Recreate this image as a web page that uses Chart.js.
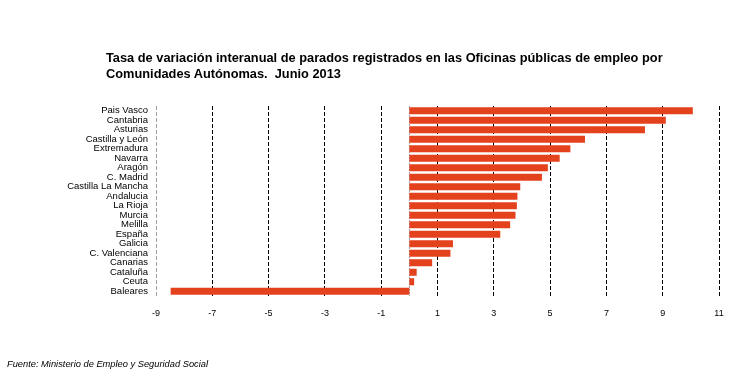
<!DOCTYPE html>
<html>
<head>
<meta charset="utf-8">
<script src="https://cdn.jsdelivr.net/npm/chart.js@4"></script>
<style>
  body { margin: 0; background: #fff; }
  #wrap { position: relative; width: 733px; height: 377px; }
  #title {
    position: absolute; left: 106px; top: 50px;
    font: bold 12.8px "Liberation Sans", Arial, sans-serif;
    line-height: 16px; color: #000;
  }
  #source {
    position: absolute; left: 7px; top: 359px;
    font: italic 9.3px "Liberation Sans", Arial, sans-serif;
    color: #000;
  }
  canvas { position: absolute; left: 0; top: 0; }
</style>
</head>
<body>
<div id="wrap">
  <canvas id="chart" width="733" height="377"></canvas>
  <div id="title">Tasa de variación interanual de parados registrados en las Oficinas públicas de empleo por<br>Comunidades Autónomas.&nbsp; Junio 2013</div>
  <div id="source">Fuente: Ministerio de Empleo y Seguridad Social</div>
</div>
<script>
// Data
const regions = ['Pais Vasco', 'Cantabria', 'Asturias', 'Castilla y León', 'Extremadura', 'Navarra',
  'Aragón', 'C. Madrid', 'Castilla La Mancha', 'Andalucia', 'La Rioja', 'Murcia', 'Melilla',
  'España', 'Galicia', 'C. Valenciana', 'Canarias', 'Cataluña', 'Ceuta', 'Baleares'];
const rates = [10.07, 9.11, 8.37, 6.24, 5.72, 5.34, 4.92, 4.71, 3.94, 3.84, 3.82, 3.77, 3.58,
  3.23, 1.55, 1.46, 0.81, 0.26, 0.17, -8.48];
const axisMin = -9;
const axisMax = 11;
const axisStep = 2;

// grey dotted line at zero
const zeroLine = {
  id: 'zeroLine',
  beforeDatasetsDraw(chart) {
    const { ctx, chartArea, scales } = chart;
    const x = Math.round(scales.x.getPixelForValue(0)) + 0.5;
    ctx.save();
    ctx.strokeStyle = '#a0a0a0';
    ctx.lineWidth = 1;
    ctx.setLineDash([2, 1]);
    ctx.beginPath();
    ctx.moveTo(x, chartArea.top);
    ctx.lineTo(x, chartArea.bottom);
    ctx.stroke();
    ctx.restore();
  }
};

const ctx = document.getElementById('chart').getContext('2d');
new Chart(ctx, {
  type: 'bar',
  data: {
    labels: regions,
    datasets: [{
      data: rates,
      backgroundColor: '#e4411d',
      borderWidth: 0,
      barPercentage: 0.74,
      categoryPercentage: 1.0
    }]
  },
  options: {
    indexAxis: 'y',
    responsive: false,
    animation: false,
    layout: { padding: { left: 0, right: 14, top: 106, bottom: 51 } },
    plugins: {
      legend: { display: false },
      tooltip: { enabled: false }
    },
    scales: {
      x: {
        min: axisMin,
        max: axisMax,
        afterFit: (s) => { s.height = 30; s.paddingRight = 0; s.paddingLeft = 0; },
        ticks: {
          stepSize: axisStep,
          padding: 12,
          color: '#000',
          font: { family: '"Liberation Sans", Arial, sans-serif', size: 9 }
        },
        grid: {
          drawTicks: false,
          color: (c) => (c.tick && c.tick.value === axisMin ? '#a0a0a0' : '#000'),
          lineWidth: 1
        },
        border: { display: false, dash: [4, 2] }
      },
      y: {
        afterFit: (s) => { s.width = 156; },
        ticks: {
          padding: 8,
          autoSkip: false,
          color: '#000',
          font: { family: '"Liberation Sans", Arial, sans-serif', size: 9.5 }
        },
        grid: { display: false, drawTicks: false },
        border: { display: false }
      }
    }
  },
  plugins: [zeroLine]
});
</script>
</body>
</html>
